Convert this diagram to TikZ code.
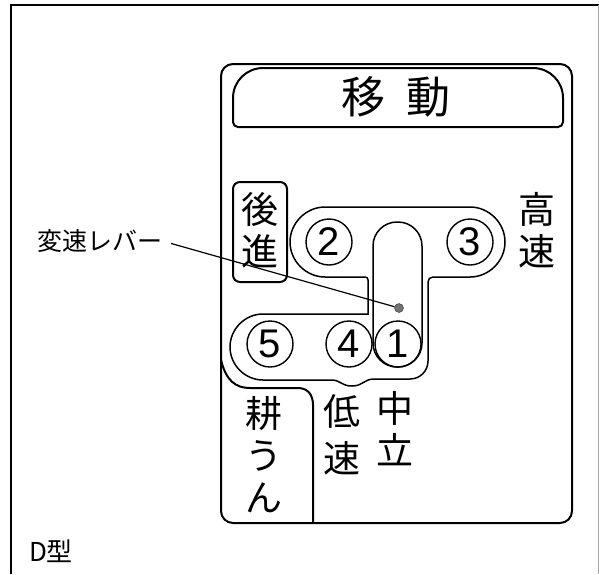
\documentclass[tikz,border=0pt]{standalone}
\usepackage{fontspec}
\setmainfont{Noto Sans CJK JP}
\newfontfamily\numfont{Liberation Sans}

\begin{document}
\begin{tikzpicture}[x=1pt, y=-1pt,
    panel/.style={line width=2pt},
    gate/.style={line width=1.5pt},
    num/.style={circle, draw, line width=1.4pt, minimum size=46pt, inner sep=0pt,
        font=\numfont\fontsize{40}{40}\selectfont},
    vlabel/.style={align=center, inner sep=0pt, font=\fontsize{37}{42}\selectfont}]

\useasboundingbox (0,0) rectangle (599,574);

% Frame
\draw[line width=2pt] (11,574) -- (11,5) -- (599,5);
\draw[black!35, line width=1pt] (598,5) -- (598,574);

% Panel
\draw[panel, rounded corners=12] (221,64) rectangle (572,523);

% Title box
\draw[panel, rounded corners=5] (233,100) [rounded corners=30] -- (233,68) -- (563,68)
    [rounded corners=5] -- (563,127) -- (233,127) -- cycle;
\node[inner sep=0pt, font=\fontsize{44}{44}\selectfont] (title) at (396,97) {移\hspace{21pt}動};

% Tilling box
\draw[panel] (221,360) .. controls (226,380) and (235,388) .. (250,388) -- (298,388)
    .. controls (308,388) and (313,395) .. (313,405) -- (313,523);

% Reverse box
\draw[panel, rounded corners=7] (233,182) rectangle (287,282);

% Gate outline
\draw[gate] (325,207) -- (470,207)
    .. controls (489,207) and (505,223) .. (505,242)
    .. controls (505,261) and (489,277) .. (470,277)
    -- (433,277) .. controls (430,277) and (428,279) .. (428,282)
    -- (428,361) .. controls (428,371) and (420,379) .. (410,379)
    -- (374,379) .. controls (364,379) and (363,386) .. (352,386)
    .. controls (341,386) and (341,380) .. (331,380)
    -- (263,380) .. controls (245,380) and (230,365) .. (230,347)
    .. controls (230,329) and (245,314) .. (263,314)
    -- (368,314) -- (368,280) .. controls (368,278) and (367,277) .. (365,277)
    -- (325,277) .. controls (306,277) and (290,261) .. (290,242)
    .. controls (290,223) and (306,207) .. (325,207) -- cycle;

% Slot
\draw[gate, rounded corners=24] (373,222) rectangle (422,367);

% Positions
\node[num] (p1) at (398,344) {1};
\node[num] (p2) at (329,242) {2};
\node[num] (p3) at (470,242) {3};
\node[num] (p4) at (349,344) {4};
\node[num] (p5) at (270,344) {5};

% Lever
\node[circle, fill=black!55, draw=black!80, minimum size=9pt, inner sep=0pt] (lever) at (399,308) {};
\node[anchor=west, inner sep=0pt, font=\fontsize{25}{25}\selectfont] (shiftlabel) at (37,241) {変速レバー};
\draw[line width=1.2pt, shorten <=9pt] (shiftlabel.east) -- (lever);

% Labels
\node[vlabel] (reverse) at (260,230) {後\\進};
\node[vlabel] (high) at (537,230) {高\\速};
\node[vlabel] (tilling) at (264,455) {耕\\う\\ん};
\node[vlabel] (low) at (342,435) {低\\[5pt]速};
\node[vlabel] (neutral) at (395,429) {中\\立};

\node[inner sep=0pt, font=\fontsize{26}{26}\selectfont] (model) at (51,551) {D型};

\end{tikzpicture}
\end{document}
